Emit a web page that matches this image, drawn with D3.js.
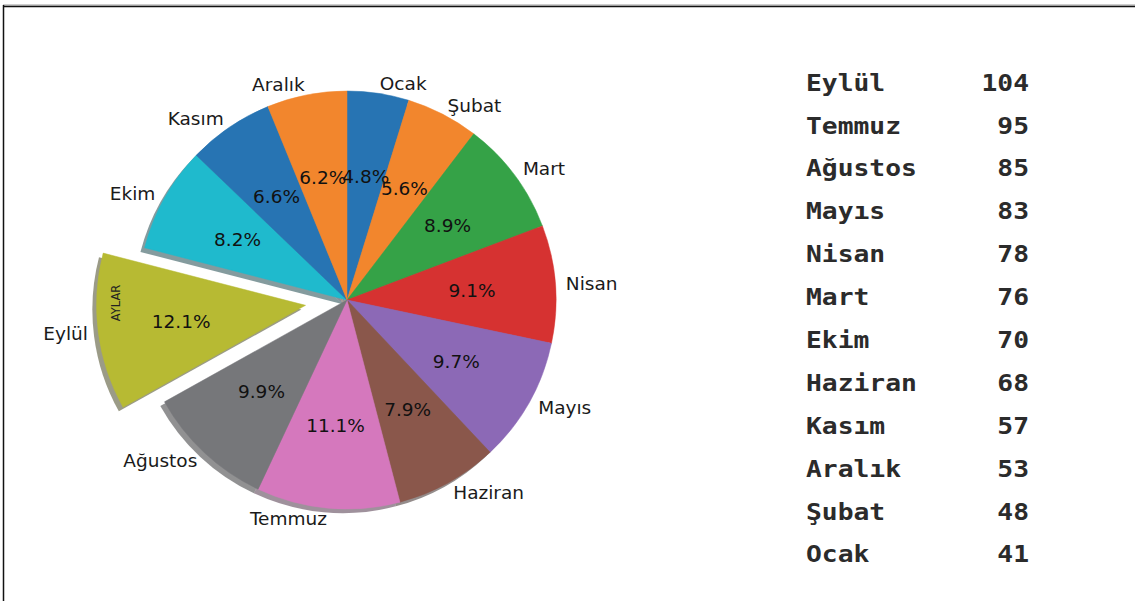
<!DOCTYPE html>
<html>
<head>
<meta charset="utf-8">
<script src="https://cdn.jsdelivr.net/npm/d3@7"></script>
<style>
  html, body { margin: 0; padding: 0; background: #fff; }
  svg { display: block; }
</style>
</head>
<body>
<svg id="chart" width="1135" height="601"></svg>
<script>
// Monthly counts, in calendar order (drawn clockwise from 12 o'clock)
const months = ["Ocak", "Şubat", "Mart", "Nisan", "Mayıs", "Haziran",
                "Temmuz", "Ağustos", "Eylül", "Ekim", "Kasım", "Aralık"];
const counts = [41, 48, 76, 78, 83, 68, 95, 85, 104, 70, 57, 53];
const sliceColors = ["#2774b3", "#f2862d", "#35a247", "#d63231", "#8c69b6", "#8a574b",
                     "#d578bd", "#76777a", "#b7ba33", "#1fbacd", "#2774b3", "#f2862d"];
const explode = [0, 0, 0, 0, 0, 0, 0, 0, 0.2, 0, 0, 0];
const yLabel = "AYLAR";

const svg = d3.select("#chart");
svg.append("rect").attr("width", 1135).attr("height", 601).attr("fill", "#fff");

// frame lines (top and left)
svg.append("line").attr("x1", 3).attr("x2", 1135).attr("y1", 5).attr("y2", 5)
  .attr("stroke", "#9a9a9a").attr("stroke-width", 1);
svg.append("line").attr("x1", 3).attr("x2", 1135).attr("y1", 6.5).attr("y2", 6.5)
  .attr("stroke", "#111").attr("stroke-width", 1.6);
svg.append("line").attr("x1", 3.5).attr("x2", 3.5).attr("y1", 5).attr("y2", 601)
  .attr("stroke", "#111").attr("stroke-width", 1.5);

// ---- pie ----
const cx = 347, cy = 300, R = 209;
const labelDistance = 1.05, pctDistance = 0.6, shadowShift = 0.02;

const data = months.map((m, i) => ({ month: m, value: counts[i], color: sliceColors[i], explode: explode[i] }));
const total = d3.sum(counts);
const pie = d3.pie().sort(null).value(d => d.value).startAngle(0).endAngle(2 * Math.PI);
const arcs = pie(data);
const arc = d3.arc().innerRadius(0).outerRadius(R);

function along(d, dist) {
  const a = (d.startAngle + d.endAngle) / 2;
  return [Math.sin(a) * dist, -Math.cos(a) * dist];
}

const g = svg.append("g").attr("transform", `translate(${cx},${cy})`);

// shadows sit under every wedge
g.append("g").selectAll("path").data(arcs).join("path")
  .attr("d", arc)
  .attr("transform", d => {
    const [ox, oy] = along(d, d.data.explode * R);
    return `translate(${ox - shadowShift * R},${oy + shadowShift * R})`;
  })
  .attr("fill", d => {
    const c = d3.rgb(d.data.color);
    return d3.rgb(c.r * 0.3, c.g * 0.3, c.b * 0.3);
  })
  .attr("fill-opacity", 0.5);

// wedges
g.append("g").selectAll("path").data(arcs).join("path")
  .attr("d", arc)
  .attr("transform", d => {
    const [ox, oy] = along(d, d.data.explode * R);
    return `translate(${ox},${oy})`;
  })
  .attr("fill", d => d.data.color)
  .attr("stroke", d => d.data.color)
  .attr("stroke-width", 0.5);

// month labels outside the wedges
g.append("g").selectAll("text").data(arcs).join("text")
  .each(function (d) {
    const [ex, ey] = along(d, d.data.explode * R);
    const [lx, ly] = along(d, labelDistance * R);
    const x = ex + lx, y = ey + ly;
    d3.select(this).attr("x", x).attr("y", y)
      .attr("text-anchor", x > 0 ? "start" : "end");
  })
  .attr("dy", "0.36em")
  .attr("font-family", "DejaVu Sans, sans-serif")
  .attr("font-size", 18.5)
  .attr("fill", "#1a1a1a")
  .text(d => d.data.month);

// percentage labels inside the wedges
g.append("g").selectAll("text").data(arcs).join("text")
  .each(function (d) {
    const [ex, ey] = along(d, d.data.explode * R);
    const [px, py] = along(d, pctDistance * R);
    d3.select(this).attr("x", ex + px).attr("y", ey + py);
  })
  .attr("dy", "0.36em")
  .attr("text-anchor", "middle")
  .attr("font-family", "DejaVu Sans, sans-serif")
  .attr("font-size", 18.5)
  .attr("fill", "#111")
  .text(d => (d.data.value / total * 100).toFixed(1) + "%");

// y-axis label
svg.append("text")
  .attr("transform", "translate(116,303) rotate(-90)")
  .attr("text-anchor", "middle")
  .attr("dy", "0.36em")
  .attr("font-family", "DejaVu Sans, sans-serif")
  .attr("font-size", 11.5)
  .attr("fill", "#222")
  .text(yLabel);

// ---- sorted listing on the right ----
const ranked = d3.sort(data, (a, b) => d3.descending(a.value, b.value));
const rowY = d3.scaleLinear().domain([0, ranked.length - 1]).range([90.7, 562.5]);
const sx = 1.17;
const tableLeft = 806, tableRight = 1029;
const table = svg.append("g")
  .attr("transform", `translate(${tableLeft},0) scale(${sx},1)`)
  .attr("font-family", "DejaVu Sans Mono, monospace")
  .attr("font-size", 22.5)
  .attr("font-weight", "bold")
  .attr("fill", "#2b2b2b");

table.selectAll("text.name").data(ranked).join("text")
  .attr("class", "name")
  .attr("x", 0).attr("y", (d, i) => rowY(i))
  .text(d => d.month);

table.selectAll("text.val").data(ranked).join("text")
  .attr("class", "val")
  .attr("x", (tableRight - tableLeft) / sx).attr("y", (d, i) => rowY(i))
  .attr("text-anchor", "end")
  .text(d => d.value);
</script>
</body>
</html>
